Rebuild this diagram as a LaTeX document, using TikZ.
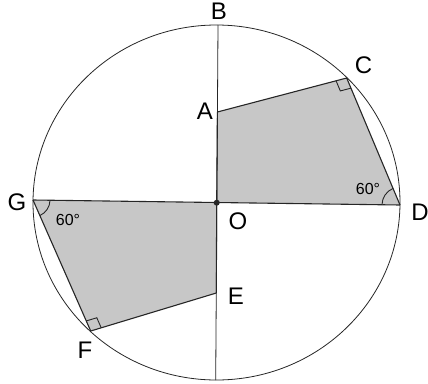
\documentclass[tikz,border=0pt]{standalone}
\usepackage{fontspec}
\setmainfont{Liberation Sans}
\usetikzlibrary{calc,angles}
\begin{document}
\begin{tikzpicture}[x=1pt,y=1pt,
  thinline/.style={line width=0.8pt,black!85},
  edge/.style={line width=1.1pt,black!85},
  shade/.style={fill=black!22},
  lbl/.style={font=\fontsize{24}{24}\selectfont,inner sep=0pt},
  deg/.style={font=\fontsize{16}{16}\selectfont,inner sep=0pt},
  rmark/.style={line width=0.9pt,black!85}]
\useasboundingbox (0,0) rectangle (428,-383);
\coordinate (O) at (216.7,-202.7);
\coordinate (Bt) at (218,-25);
\coordinate (Bb) at (215.7,-380);
\coordinate (G) at (33,-200);
\coordinate (D) at (400,-205);
\coordinate (A) at (217.4,-112);
\coordinate (C) at (346.7,-78);
\coordinate (E) at (216.3,-293);
\coordinate (F) at (90.7,-331);
% shaded quadrilaterals
\fill[shade] (A) -- (C) -- (D) -- (O) -- cycle;
\fill[shade] (O) -- (E) -- (F) -- (G) -- cycle;
% circle
\draw[thinline] (216.5,-202.5) ellipse [x radius=183.5, y radius=177.5];
% diameters
\draw[thinline] (Bt) -- (Bb);
\draw[edge] (G) -- (D);
\draw[edge] (A) -- (O);
\draw[edge] (O) -- (E);
% edges
\draw[edge] (A) -- (C) -- (D);
\draw[edge] (E) -- (F) -- (G);
% right angle marks
\coordinate (c1) at ($(C)!11pt!(A)$);
\coordinate (c2) at ($(C)!11pt!(D)$);
\draw[rmark] (c1) -- ($(c1)+(c2)-(C)$) -- (c2);
\coordinate (f1) at ($(F)!11pt!(E)$);
\coordinate (f2) at ($(F)!11pt!(G)$);
\draw[rmark] (f1) -- ($(f1)+(f2)-(F)$) -- (f2);
% angle arcs
\pic[draw,rmark,angle radius=18pt] {angle=C--D--G};
\pic[draw,rmark,angle radius=17pt] {angle=F--G--O};
% centre dot
\fill[black!85] (O) circle (3pt);
% labels
\node[lbl] (lB) at (219,-11) {B};
\node[lbl] (lC) at (363.5,-65) {C};
\node[lbl] (lA) at (205,-111) {A};
\node[lbl] (lD) at (420,-212) {D};
\node[lbl] (lG) at (17,-202) {G};
\node[lbl] (lO) at (238,-221) {O};
\node[lbl] (lE) at (236,-296) {E};
\node[lbl] (lF) at (85,-350) {F};
\node[deg] (d1) at (368,-189) {60°};
\node[deg] (d2) at (68,-220) {60°};
\end{tikzpicture}
\end{document}
